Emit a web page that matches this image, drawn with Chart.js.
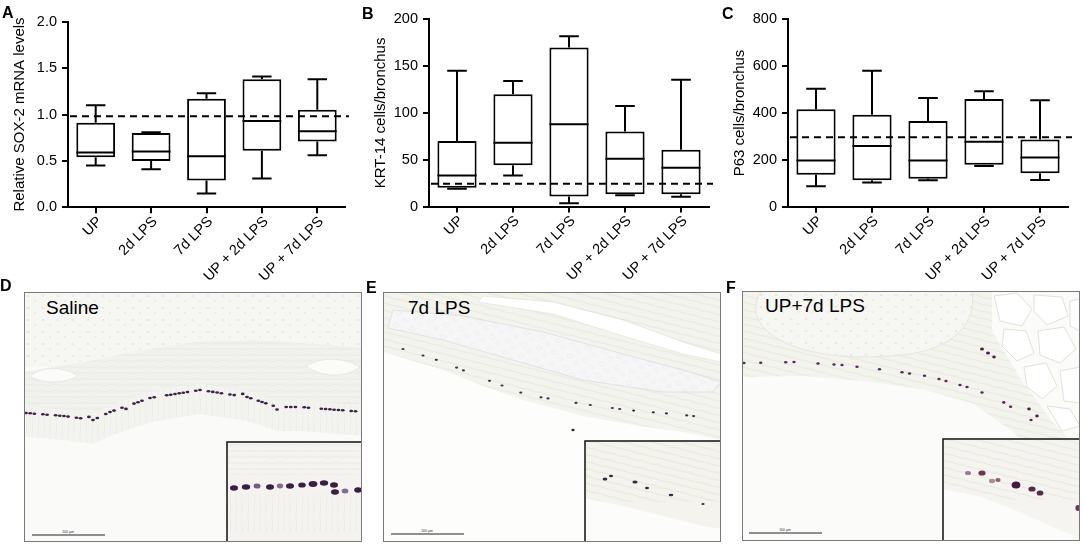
<!DOCTYPE html>
<html><head><meta charset="utf-8">
<script src="https://cdn.jsdelivr.net/npm/chart.js@4.4.1/dist/chart.umd.min.js"></script>
<style>
html,body{margin:0;padding:0;background:#fff;}
body{width:1084px;height:546px;position:relative;overflow:hidden;font-family:'Liberation Sans',Arial,sans-serif;}
canvas.cv{position:absolute;top:0;}
.lt{position:absolute;font-weight:bold;font-size:16px;line-height:16px;color:#000;}
.mic{position:absolute;width:338px;height:250px;border:1px solid #7a7a7a;box-sizing:border-box;overflow:hidden;background:#fafaf8;}
.mic svg{position:absolute;left:-1px;top:-1px;}
.ml{position:absolute;font-size:19px;line-height:19px;color:#000;white-space:nowrap;}
</style></head>
<body>
<div class="mic" id="mD" style="left:24px;top:292px"></div>
<div class="mic" id="mE" style="left:383px;top:292px"></div>
<div class="mic" id="mF" style="left:742px;top:291px"></div>
<canvas class="cv" id="cA" width="355" height="290" style="left:0px;width:355px;height:290px"></canvas>
<canvas class="cv" id="cB" width="355" height="290" style="left:361px;width:355px;height:290px"></canvas>
<canvas class="cv" id="cC" width="355" height="290" style="left:720px;width:355px;height:290px"></canvas>
<div class="lt" style="left:2px;top:5px">A</div>
<div class="lt" style="left:362px;top:6px">B</div>
<div class="lt" style="left:722px;top:6px">C</div>
<div class="lt" style="left:0px;top:278px">D</div>
<div class="lt" style="left:366px;top:280px">E</div>
<div class="lt" style="left:726px;top:280px">F</div>
<script>
// ---------- data ----------
const groups = ['UP', '2d LPS', '7d LPS', 'UP + 2d LPS', 'UP + 7d LPS'];

const soxMin = [0.45, 0.41, 0.15, 0.31, 0.56];
const soxQ1  = [0.54, 0.50, 0.29, 0.61, 0.71];
const soxMed = [0.59, 0.60, 0.55, 0.93, 0.82];
const soxQ3  = [0.91, 0.80, 1.17, 1.38, 1.05];
const soxMax = [1.10, 0.81, 1.23, 1.41, 1.38];
const soxSaline = 0.98;

const krtMin = [19, 33, 3.6, 12, 10.4];
const krtQ1  = [20, 44, 10.7, 13.2, 13.2];
const krtMed = [33, 68, 88, 51, 41.4];
const krtQ3  = [70, 120, 170, 80, 60.7];
const krtMax = [145, 134, 182, 107.5, 135.4];
const krtSaline = 24.3;

const p63Min = [87, 103, 113, 174, 114];
const p63Q1  = [136, 113, 119, 179, 143];
const p63Med = [197, 259, 197, 277, 210];
const p63Q3  = [416, 393, 366, 460, 287];
const p63Max = [503, 580, 464, 493, 454];
const p63Saline = 296;

const soxTicks = [0, 0.5, 1.0, 1.5, 2.0];
const krtTicks = [0, 50, 100, 150, 200];
const p63Ticks = [0, 200, 400, 600, 800];

// ---------- charts ----------
Chart.defaults.font.family = "'Liberation Sans', Arial, sans-serif";
Chart.defaults.color = '#000';

function boxPlugin(st) {
  return {
    id: 'boxWhisk',
    afterDatasetsDraw(chart) {
      const {ctx, chartArea} = chart;
      const ys = chart.scales.y;
      const meta = chart.getDatasetMeta(0);
      ctx.save();
      ctx.strokeStyle = '#000';
      ctx.lineWidth = 2;
      ctx.lineCap = 'butt';
      meta.data.forEach((bar, i) => {
        const x = bar.x, half = bar.width / 2, cap = half / 2;
        const yMin = ys.getPixelForValue(st.min[i]);
        const yQ1 = ys.getPixelForValue(st.q1[i]);
        const yMed = ys.getPixelForValue(st.med[i]);
        const yQ3 = ys.getPixelForValue(st.q3[i]);
        const yMax = ys.getPixelForValue(st.max[i]);
        ctx.beginPath();
        ctx.moveTo(x - half, yMed); ctx.lineTo(x + half, yMed);
        ctx.moveTo(x, yQ3); ctx.lineTo(x, yMax);
        ctx.moveTo(x - cap, yMax); ctx.lineTo(x + cap, yMax);
        ctx.moveTo(x, yQ1); ctx.lineTo(x, yMin);
        ctx.moveTo(x - cap, yMin); ctx.lineTo(x + cap, yMin);
        ctx.stroke();
      });
      const yr = ys.getPixelForValue(st.ref);
      ctx.setLineDash([7, 5]);
      ctx.beginPath();
      ctx.moveTo(chartArea.left + 2, yr);
      ctx.lineTo(chartArea.right + 4, yr);
      ctx.stroke();
      ctx.restore();
    }
  };
}

function makeChart(id, st, ticks, decimals, title, padTop, padRight, areaBottom) {
  const H = 290;
  new Chart(document.getElementById(id), {
    type: 'bar',
    data: {
      labels: groups,
      datasets: [{
        data: groups.map((g, i) => [st.q1[i], st.q3[i]]),
        backgroundColor: '#fff',
        borderColor: '#000',
        borderWidth: 2,
        borderSkipped: false,
        categoryPercentage: 1,
        barPercentage: 0.7
      }]
    },
    options: {
      responsive: false,
      animation: false,
      events: [],
      layout: {padding: {top: padTop, right: padRight, left: 0, bottom: 0}},
      plugins: {legend: {display: false}, tooltip: {enabled: false}},
      scales: {
        x: {
          offset: true,
          grid: {display: true, drawOnChartArea: false, drawTicks: true, tickLength: 6, color: '#000', lineWidth: 2, offset: false},
          border: {display: true, color: '#000', width: 2},
          ticks: {color: '#000', font: {size: 14.5}, minRotation: 45, maxRotation: 45, padding: 0, labelOffset: 4, autoSkip: false},
          afterFit: s => { s.height = H - areaBottom; }
        },
        y: {
          min: ticks[0], max: ticks[ticks.length - 1],
          afterBuildTicks: s => { s.ticks = ticks.map(v => ({value: v})); },
          grid: {display: true, drawOnChartArea: false, drawTicks: true, tickLength: 6, color: '#000', lineWidth: 2},
          border: {display: true, color: '#000', width: 2},
          ticks: {color: '#000', font: {size: 14.5}, padding: 5, callback: v => Number(v).toFixed(decimals)},
          title: {display: true, text: title, color: '#000', font: {size: 15}, padding: {top: 11, bottom: 0}},
          afterFit: s => { s.width = 68; }
        }
      }
    },
    plugins: [boxPlugin(st)]
  });
}

makeChart('cA', {min: soxMin, q1: soxQ1, med: soxMed, q3: soxQ3, max: soxMax, ref: soxSaline},
  soxTicks, 1, 'Relative SOX-2 mRNA levels', 21.7, 10, 207.3);
makeChart('cB', {min: krtMin, q1: krtQ1, med: krtMed, q3: krtQ3, max: krtMax, ref: krtSaline},
  krtTicks, 0, 'KRT-14 cells/bronchus', 19.3, 7, 206.5);
makeChart('cC', {min: p63Min, q1: p63Q1, med: p63Med, q3: p63Q3, max: p63Max, ref: p63Saline},
  p63Ticks, 0, 'P63 cells/bronchus', 19.3, 7, 206.7);

// ---------- micrograph illustrations (decorative) ----------
function dots(pts, step, rx, ry, col, pat) {
  let out = '', k = 0;
  for (let s = 0; s < pts.length - 1; s++) {
    const [x0, y0] = pts[s], [x1, y1] = pts[s + 1];
    const L = Math.hypot(x1 - x0, y1 - y0), n = Math.max(1, Math.round(L / step));
    for (let j = 0; j < n; j++) {
      const t = j / n, c = pat[k % pat.length]; k++;
      if (c === '0') continue;
      const dy = c === '2' ? -2.5 : (c === '3' ? 2.5 : 0);
      out += `<ellipse cx="${(x0 + (x1 - x0) * t).toFixed(1)}" cy="${(y0 + (y1 - y0) * t + dy).toFixed(1)}" rx="${rx}" ry="${ry}" fill="${col}"/>`;
    }
  }
  return out;
}
function shift(pts, dy) { return pts.map(p => [p[0], p[1] + dy]); }
function poly(pts) { return pts.map(p => p.join(',')).join(' '); }
function band(top, bottom) { return poly(top.concat(bottom.slice().reverse())); }
function ovals(list, col) {
  return list.map(o => `<ellipse cx="${o[0]}" cy="${o[1]}" rx="${o[2]}" ry="${o[3]}" fill="${o[4] || col}"/>`).join('');
}
function scaleBar(x, y) {
  return `<line x1="${x}" y1="${y}" x2="${x + 73}" y2="${y}" stroke="#222" stroke-width="1"/>` +
    `<text x="${x + 36}" y="${y - 2}" font-size="3.5" text-anchor="middle" fill="#333">100 µm</text>`;
}
const defs = `<defs>
<pattern id="cart" width="15" height="12" patternUnits="userSpaceOnUse"><ellipse cx="4" cy="4" rx="1.6" ry="1" fill="#e8e8e3"/><ellipse cx="11" cy="9" rx="1.4" ry="0.9" fill="#ebebe6"/></pattern>
<pattern id="strH" width="14" height="6" patternUnits="userSpaceOnUse"><path d="M0,3 C5,2 9,4 14,3" stroke="#e2e2dc" stroke-width="0.6" fill="none"/></pattern>
<pattern id="strV" width="6" height="20" patternUnits="userSpaceOnUse"><path d="M2,0 L2.5,20" stroke="#e8e8e3" stroke-width="0.6"/></pattern>
<pattern id="strG" width="16" height="7" patternUnits="userSpaceOnUse" patternTransform="rotate(14)"><path d="M0,3.5 C5,2 10,5 16,3.5" stroke="#dadfcb" stroke-width="0.6" fill="none"/></pattern>
<pattern id="cartP" width="16" height="12" patternUnits="userSpaceOnUse" patternTransform="rotate(14)"><ellipse cx="5" cy="5" rx="3" ry="2" fill="none" stroke="#e6e0e8" stroke-width="0.5"/><ellipse cx="12" cy="10" rx="2.5" ry="1.7" fill="none" stroke="#e8e3ea" stroke-width="0.5"/></pattern>
</defs>`;
function svg(inner) { return `<svg width="338" height="250" viewBox="0 0 338 250" xmlns="http://www.w3.org/2000/svg">${defs}${inner}</svg>`; }

// D
const dRow = [[2,121],[40,124],[69,128],[86,120],[126,106],[176,98],[223,105],[253,115],[276,115],[340,120]];
const dTop = [[0,80],[60,70],[120,58],[170,50],[230,48],[290,52],[338,55]];
let D = '';
D += `<rect width="338" height="250" fill="#fafaf9"/>`;
D += `<rect width="338" height="75" fill="#f6f6f3"/><rect width="338" height="75" fill="url(#cart)"/>`;
D += `<polygon points="${band(dTop, shift(dRow, -6))}" fill="#f1f1ee"/>`;
D += `<polygon points="${band(dTop, shift(dRow, -6))}" fill="url(#strH)"/>`;
D += `<path d="M6,84 C18,74 40,74 54,84 C40,92 18,92 6,84Z" fill="#fbfbfa" stroke="#dcdcd6" stroke-width="0.6"/>`;
D += `<path d="M282,74 C298,64 322,66 336,75 C322,86 298,86 282,74Z" fill="#fbfbfa" stroke="#dcdcd6" stroke-width="0.6"/>`;
D += `<polygon points="${band(shift(dRow, -6), shift(dRow, 24))}" fill="#f3f3f0"/>`;
D += `<polygon points="${band(shift(dRow, -6), shift(dRow, 24))}" fill="url(#strV)"/>`;
D += dots(dRow, 4.2, 1.9, 1.3, '#3d2447', '1110110111101102110111013011101100111');
// inset
D += `<rect x="203" y="150" width="136" height="101" fill="#f4f3f0" stroke="#111" stroke-width="1.5"/>`;
D += `<rect x="204" y="151" width="134" height="32" fill="url(#strH)"/>`;
D += `<rect x="204" y="202" width="134" height="38" fill="url(#strV)"/>`;
D += ovals([[210,196,4,2.8],[222,195,4.2,2.8],[233,194,3.5,2.6,'#7a5a80'],[246,195,4,2.8],[256,194,3.2,2.4,'#8a6a90'],[266,194,4,2.8],[278,193,3.8,2.6],[289,192,4.4,2.9],[300,191,4.2,2.8],[310,193,4,2.8],[311,200,4,2.8],[321,199,3.4,2.5,'#8a6a90'],[334,198,3.8,2.8]], '#3a1f42');
D += scaleBar(8, 243);
document.getElementById('mD').innerHTML = svg(D) + '<div class="ml" style="left:21px;top:4.5px">Saline</div>';

// E
const eRow = [[20,57],[60,70],[94,84],[144,103],[200,112],[244,118],[290,122],[338,127]];
let E = '';
E += `<rect width="338" height="250" fill="#fdfdfc"/>`;
E += `<polygon points="0,0 338,0 338,148 300,140 250,133 200,124 140,108 100,94 60,78 0,60" fill="#f4f4ef"/>`;
E += `<polygon points="0,0 338,0 338,148 300,140 250,133 200,124 140,108 100,94 60,78 0,60" fill="url(#strG)"/>`;
E += `<polygon points="10,18 80,24 160,40 240,62 300,78 338,90 330,100 280,100 200,88 130,68 60,48 5,36" fill="#f7f6f7"/>`;
E += `<polygon points="10,18 80,24 160,40 240,62 300,78 338,90 330,100 280,100 200,88 130,68 60,48 5,36" fill="url(#cartP)" stroke="#ddd6df" stroke-width="0.7"/>`;
E += `<polygon points="100,4 170,10 240,28 300,50 338,62 338,70 300,62 240,44 170,22 95,10" fill="#ffffff" stroke="#d6dac6" stroke-width="0.5"/>`;
E += dots(eRow, 7, 1.6, 1.1, '#4a2a55', '1001010011000101001001100010100110');
E += `<ellipse cx="190" cy="138" rx="1.6" ry="1.3" fill="#2e1a38"/>`;
// inset
E += `<rect x="202" y="149" width="137" height="102" fill="#f4f3ee" stroke="#111" stroke-width="1.5"/>`;
E += `<rect x="203" y="150" width="135" height="60" fill="url(#strG)"/>`;
E += `<polygon points="203,206 240,214 280,224 320,234 338,237 338,250 203,250" fill="#fcfcfb"/>`;
E += ovals([[222,187,2.4,1.5],[228,184,2,1.3],[252,190,2.6,1.5],[264,196,2,1.2],[288,203,2.3,1.3],[320,212,1.6,1.1]], '#3a2940');
E += scaleBar(8, 242);
document.getElementById('mE').innerHTML = svg(E) + '<div class="ml" style="left:24px;top:4.5px">7d LPS</div>';

// F
const fRow = [[2,72],[52,71],[100,74],[145,79],[190,86],[225,96],[255,107],[289,129],[302,142]];
let F = '';
F += `<rect width="338" height="250" fill="#fbfbfa"/>`;
F += `<polygon points="0,0 250,0 250,40 280,90 310,130 338,160 338,205 310,180 270,140 230,112 180,98 120,90 60,85 0,86" fill="#f4f4ef"/>`;
F += `<polygon points="0,0 250,0 250,40 280,90 310,130 338,160 338,205 310,180 270,140 230,112 180,98 120,90 60,85 0,86" fill="url(#strG)"/>`;
F += `<path d="M20,0 L230,0 C235,30 215,58 160,64 C100,70 50,62 25,40 C12,28 10,12 20,0Z" fill="#f6f6f2" stroke="#dde0d2" stroke-width="0.7"/>`;
F += `<path d="M20,0 L230,0 C235,30 215,58 160,64 C100,70 50,62 25,40 C12,28 10,12 20,0Z" fill="url(#cart)"/>`;
F += `<g fill="#ffffff" stroke="#d3d9c2" stroke-width="0.7">
<path d="M252,5 L275,2 L290,18 L280,35 L258,30Z"/><path d="M292,4 L320,6 L326,25 L305,34 L292,20Z"/>
<path d="M328,10 L338,8 L338,40 L328,35Z"/><path d="M262,38 L284,40 L292,62 L275,70 L260,55Z"/>
<path d="M296,40 L322,36 L334,58 L318,72 L298,64Z"/><path d="M282,76 L304,72 L315,95 L300,108 L285,96Z"/>
<path d="M318,80 L338,76 L338,112 L322,110Z"/><path d="M305,115 L328,118 L338,135 L320,140Z"/></g>`;
F += dots(fRow, 8, 1.7, 1.3, '#5a2a5e', '10100110010110100100110101101');
F += ovals([[240,58,2,1.5],[246,62,2,1.5],[252,66,1.8,1.4],[287,118,1.8,1.4],[295,125,1.8,1.4]], '#4a2050');
// inset
F += `<rect x="201" y="148" width="138" height="102" fill="#f5f4f1" stroke="#111" stroke-width="1.5"/>`;
F += `<rect x="202" y="149" width="136" height="60" fill="url(#strG)"/>`;
F += `<polygon points="202,198 240,206 280,222 320,240 338,247 338,250 202,250" fill="#fcfcfb"/>`;
F += ovals([[226,182,3,2,'#9a7a90'],[240,182,3.6,2.6,'#6a3550'],[250,190,3,2.2,'#a88a9a'],[256,189,2.6,2,'#8a6070'],[274,194,4.4,3.6,'#4a1a3a'],[290,198,3.6,2.6,'#5a2a48'],[298,202,3.4,2.6,'#5a2a48'],[336,217,2.6,3,'#6a3a55']], '#5a2a48');
F += scaleBar(7, 242);
document.getElementById('mF').innerHTML = svg(F) + '<div class="ml" style="left:22px;top:4px">UP+7d LPS</div>';
</script>
</body></html>
